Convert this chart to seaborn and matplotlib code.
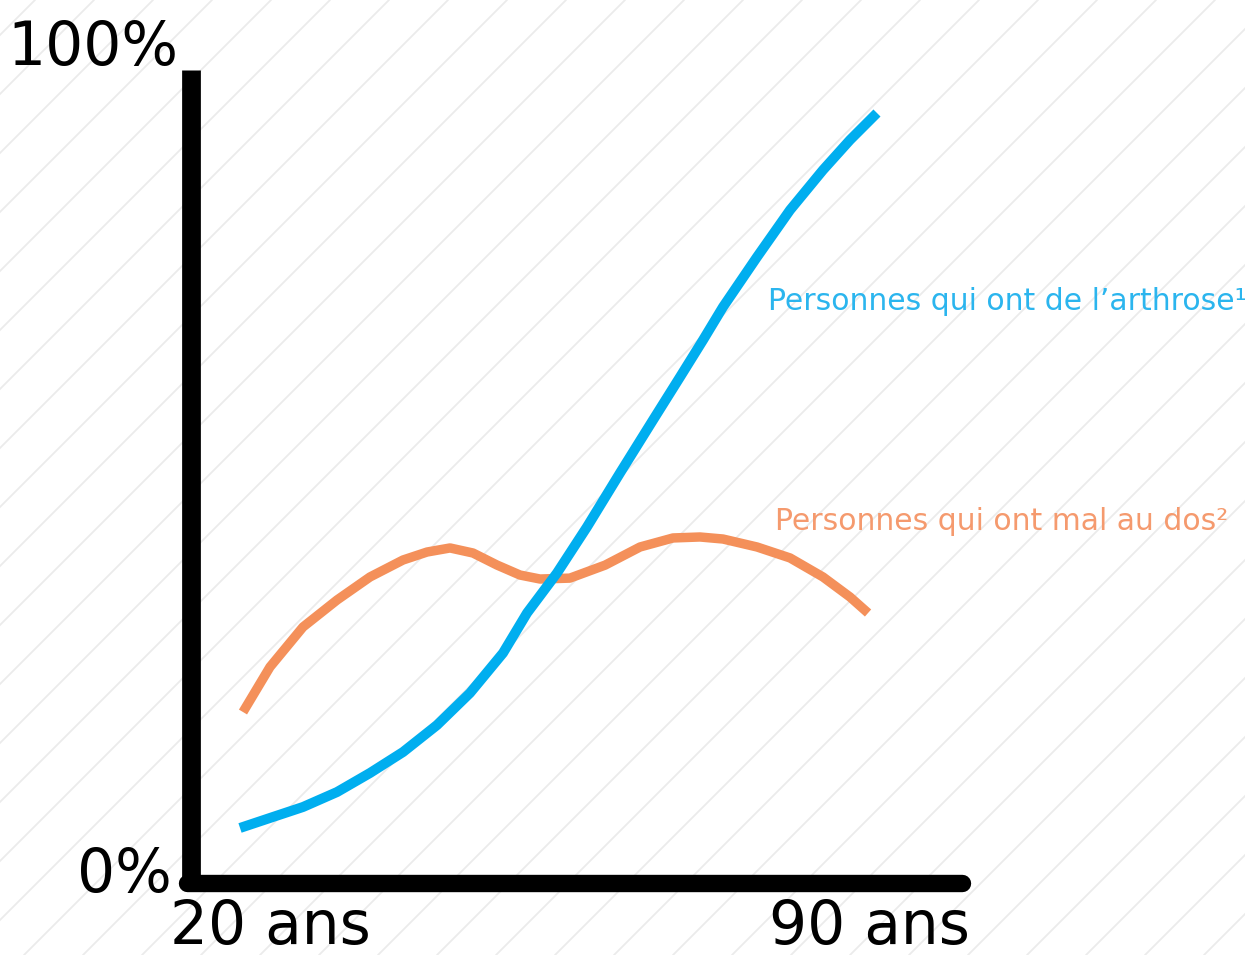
import numpy as np
import pandas as pd
import matplotlib
matplotlib.use("Agg")
import matplotlib.pyplot as plt
import seaborn as sns

# valeurs (âge, % de personnes)
age_arthrose = [24.45, 27.17, 30.17, 33.26, 36.25, 39.25, 42.34, 45.33, 48.33, 50.51,
                53.23, 55.95, 58.95, 61.95, 64.40, 66.49, 68.30, 71.39, 74.39, 77.38,
                79.83, 82.28]
pct_arthrose = [6.77, 8.00, 9.35, 11.19, 13.53, 16.11, 19.43, 23.37, 28.29, 33.21,
                38.13, 43.79, 50.43, 56.95, 62.24, 66.79, 70.85, 77.00, 82.78, 87.70,
                91.39, 94.71]

age_dos = [24.72, 27.17, 30.17, 33.26, 36.25, 39.25, 41.43, 43.52, 45.60, 47.78,
           49.87, 51.69, 54.40, 57.60, 60.77, 63.76, 66.21, 68.30, 71.39, 74.39,
           77.38, 79.83, 81.47]
pct_dos = [21.03, 26.57, 31.49, 34.81, 37.64, 39.73, 40.71, 41.21, 40.59, 39.11,
           37.88, 37.39, 37.50, 39.10, 41.33, 42.44, 42.56, 42.31, 41.33, 39.98,
           37.64, 35.18, 33.21]

labels = ["Personnes qui ont de l\u2019arthrose\u00b9", "Personnes qui ont mal au dos\u00b2"]
x_labels = ["20 ans", "90 ans"]
y_labels = ["0%", "100%"]

BLUE = "#00AEEF"
ORANGE = "#F4905A"


def main():
    sns.set_style("white")
    plt.rcParams["font.family"] = ["DejaVu Sans"]

    W, H = 1245, 955
    fig = plt.figure(figsize=(W / 100, H / 100), dpi=100)

    # fond hachuré (diagonales à 45°)
    bg = fig.add_axes([0, 0, 1, 1], zorder=-5)
    bg.set_xlim(0, W)
    bg.set_ylim(0, H)
    bg.axis("off")
    for c in np.arange(35, W + H + 60, 59):
        bg.plot([c - H, c], [0, H], color="#EBEBEB", lw=1.3, zorder=0)

    # zone du graphique
    left, right, top, bottom = 191, 962, 70, 883
    ax = fig.add_axes([left / W, 1 - bottom / H, (right - left) / W, (bottom - top) / H])
    ax.patch.set_alpha(0)
    ax.set_xlim(20, 90)
    ax.set_ylim(0, 100)
    for s in ax.spines.values():
        s.set_visible(False)
    ax.set_xticks([])
    ax.set_yticks([])

    df_a = pd.DataFrame({"age": age_arthrose, "pct": pct_arthrose})
    df_d = pd.DataFrame({"age": age_dos, "pct": pct_dos})
    sns.lineplot(data=df_d, x="age", y="pct", ax=ax, color=ORANGE, lw=6.8,
                 solid_capstyle="butt", solid_joinstyle="round", sort=False)
    sns.lineplot(data=df_a, x="age", y="pct", ax=ax, color=BLUE, lw=7.2,
                 solid_capstyle="butt", solid_joinstyle="round", sort=False)
    ax.set_xlabel("")
    ax.set_ylabel("")

    # axes épais
    ax.plot([0, 0], [0, 1], transform=ax.transAxes, color="black", lw=13.5,
            solid_capstyle="butt", clip_on=False, zorder=5)
    ax.plot([-0.005, 1], [0, 0], transform=ax.transAxes, color="black", lw=12.5,
            solid_capstyle="round", clip_on=False, zorder=5)

    # textes
    fs_big = 43
    fig.text(178 / W, 1 - 65 / H, y_labels[1], ha="right", va="baseline",
             fontsize=fs_big, color="black")
    fig.text(172 / W, 1 - 892 / H, y_labels[0], ha="right", va="baseline",
             fontsize=fs_big, color="black")
    fig.text(170 / W, 1 - 944 / H, x_labels[0], ha="left", va="baseline",
             fontsize=fs_big, color="black")
    fig.text(970 / W, 1 - 944 / H, x_labels[1], ha="right", va="baseline",
             fontsize=fs_big, color="black")

    fig.text(768 / W, 1 - 310 / H, labels[0], ha="left", va="baseline",
             fontsize=21.5, color="#2BB5EE")
    fig.text(775 / W, 1 - 530 / H, labels[1], ha="left", va="baseline",
             fontsize=21.5, color="#F59A6E")

    fig.savefig("out.png", dpi=100, facecolor="white")


if __name__ == "__main__":
    main()
